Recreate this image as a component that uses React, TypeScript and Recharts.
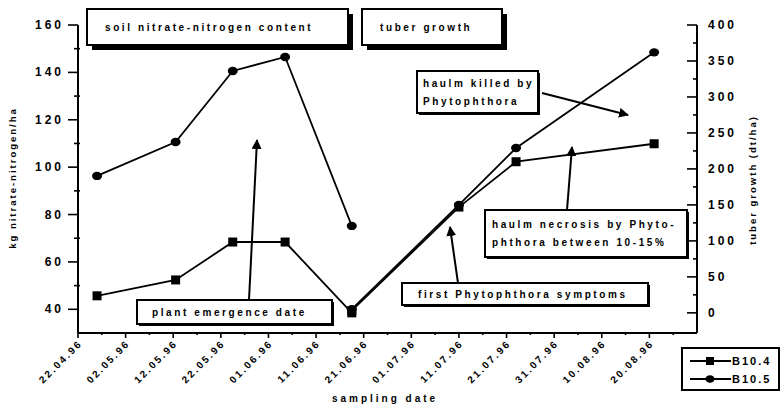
import { LineChart, Line, XAxis, YAxis } from "recharts";

const dateLabels = [
  "22.04.96", "02.05.96", "12.05.96", "22.05.96", "01.06.96", "11.06.96", "21.06.96",
  "01.07.96", "11.07.96", "21.07.96", "31.07.96", "10.08.96", "20.08.96",
];

// days after 22.04.96
const sampleDays = [4, 20.5, 32.5, 43.5, 57.5, 80, 92, 121];
const nitrateB104 = [45.7, 52.4, 68.4, 68.4, 38.5, null, null, null];
const nitrateB105 = [96.3, 110.6, 140.6, 146.5, 75.2, null, null, null];
const tuberB104 = [null, null, null, null, 3, 147, 210, 235];
const tuberB105 = [null, null, null, null, 5, 150, 229, 362];

const leftTicks = [40, 50, 60, 70, 80, 90, 100, 110, 120, 130, 140, 150, 160];
const rightTicks = [0, 25, 50, 75, 100, 125, 150, 175, 200, 225, 250, 275, 300, 325, 350, 375, 400];

const data = sampleDays.map((day, i) => ({
  day,
  n104: nitrateB104[i],
  n105: nitrateB105[i],
  t104: tuberB104[i],
  t105: tuberB105[i],
}));

const xTicks: number[] = [];
dateLabels.forEach((_, i) => {
  xTicks.push(i * 10);
  xTicks.push(i * 10 + 5);
});

const FONT = "'Liberation Sans', Arial, sans-serif";

const LeftTick = ({ x, y, payload }: any) => {
  const major = payload.value % 20 === 0;
  return (
    <g>
      <line x1={major ? x - 10 : x - 4} x2={major ? x : x + 2} y1={y} y2={y} stroke="#000" strokeWidth={1.6} />
      {major && (
        <text x={x - 14} y={y} dy={4} textAnchor="end" fontFamily={FONT} fontWeight="bold" fontSize={12} letterSpacing={3} fill="#000">
          {payload.value}
        </text>
      )}
    </g>
  );
};

const RightTick = ({ x, y, payload }: any) => {
  const major = payload.value % 50 === 0;
  return (
    <g>
      <line x1={major ? x - 10 : x - 4} x2={major ? x : x + 1} y1={y} y2={y} stroke="#000" strokeWidth={1.6} />
      {major && (
        <text x={x + 11} y={y} dy={4} textAnchor="start" fontFamily={FONT} fontWeight="bold" fontSize={12} letterSpacing={3} fill="#000">
          {payload.value}
        </text>
      )}
    </g>
  );
};

const DateTick = ({ x, y, payload }: any) => {
  const major = payload.value % 10 === 0;
  const label = dateLabels[payload.value / 10];
  return (
    <g>
      <line x1={x} x2={x} y1={y} y2={y + (major ? 5 : 2)} stroke="#000" strokeWidth={1.6} />
      {major && (
        <text
          x={x + 5}
          y={y + 11}
          textAnchor="end"
          transform={`rotate(-45 ${x + 5} ${y + 11})`}
          fontFamily={FONT}
          fontWeight="bold"
          fontSize={10}
          letterSpacing={2.2}
          fill="#000"
        >
          {label}
        </text>
      )}
    </g>
  );
};

const squareDot = (props: any) => {
  const { cx, cy, index } = props;
  if (cx == null || cy == null) return <g key={index} />;
  return <rect key={index} x={cx - 4.5} y={cy - 4.5} width={9} height={9} fill="#000" />;
};

const circleDot = (props: any) => {
  const { cx, cy, index } = props;
  if (cx == null || cy == null) return <g key={index} />;
  return <ellipse key={index} cx={cx} cy={cy} rx={5} ry={4.2} fill="#000" />;
};

type Note = { x: number; y: number; w: number; h: number; shadow: number; lines: string[]; tx: number; ty: number[] };

const notes: Note[] = [
  { x: 87, y: 9, w: 261, h: 36, shadow: 5, lines: ["soil nitrate-nitrogen content"], tx: 105, ty: [31] },
  { x: 362, y: 9, w: 140, h: 36, shadow: 5, lines: ["tuber growth"], tx: 380, ty: [31] },
  { x: 417, y: 71, w: 121, h: 42, shadow: 2, lines: ["haulm killed by", "Phytophthora"], tx: 423, ty: [87, 105] },
  { x: 485, y: 210, w: 202, h: 47, shadow: 2, lines: ["haulm necrosis by Phyto-", "phthora between 10-15%"], tx: 492, ty: [228, 246] },
  { x: 402, y: 283, w: 246, h: 22, shadow: 2, lines: ["first Phytophthora symptoms"], tx: 418, ty: [298] },
  { x: 137, y: 300, w: 195, h: 24, shadow: 2, lines: ["plant emergence date"], tx: 152, ty: [316] },
];

const arrows = [
  [249, 300, 257, 140],
  [542, 93, 628, 115],
  [567, 210, 572, 147],
  [458, 283, 450, 227],
];

const Overlay = () => (
  <svg width={781} height={407} style={{ position: "absolute", left: 0, top: 0, pointerEvents: "none" }}>
    <defs>
      <marker id="head" viewBox="0 0 10 10" refX="9" refY="5" markerWidth="5" markerHeight="5" orient="auto">
        <path d="M0,0 L10,5 L0,10 z" fill="#000" />
      </marker>
    </defs>
    {arrows.map(([x1, y1, x2, y2], i) => (
      <line key={i} x1={x1} y1={y1} x2={x2} y2={y2} stroke="#000" strokeWidth={2} markerEnd="url(#head)" />
    ))}
    {notes.map((n, i) => (
      <g key={i}>
        <rect x={n.x + n.shadow} y={n.y + n.shadow} width={n.w} height={n.h} fill="#000" />
        <rect x={n.x} y={n.y} width={n.w} height={n.h} fill="#fff" stroke="#000" strokeWidth={2} />
        {n.lines.map((t, j) => (
          <text key={j} x={n.tx} y={n.ty[j]} fontFamily={FONT} fontWeight="bold" fontSize={10} letterSpacing={2.6} fill="#000">
            {t}
          </text>
        ))}
      </g>
    ))}
    <g>
      <rect x={682} y={348} width={97} height={42} fill="#fff" stroke="#000" strokeWidth={2} />
      <line x1={690} x2={731} y1={361} y2={361} stroke="#000" strokeWidth={1.8} />
      <rect x={706} y={357} width={8} height={8} fill="#000" />
      <text x={732} y={365} fontFamily={FONT} fontWeight="bold" fontSize={11} letterSpacing={2} fill="#000">B10.4</text>
      <line x1={690} x2={731} y1={379} y2={379} stroke="#000" strokeWidth={1.8} />
      <ellipse cx={710} cy={379} rx={4.5} ry={3.8} fill="#000" />
      <text x={732} y={383} fontFamily={FONT} fontWeight="bold" fontSize={11} letterSpacing={2} fill="#000">B10.5</text>
    </g>
    <text x={385} y={402} textAnchor="middle" fontFamily={FONT} fontWeight="bold" fontSize={10} letterSpacing={3} fill="#000">
      sampling date
    </text>
    <text x={0} y={0} transform="translate(16 178) rotate(-90)" textAnchor="middle" fontFamily={FONT} fontWeight="bold" fontSize={9.5} letterSpacing={2} fill="#000">
      kg nitrate-nitrogen/ha
    </text>
    <text x={0} y={0} transform="translate(756 180) rotate(-90)" textAnchor="middle" fontFamily={FONT} fontWeight="bold" fontSize={9.5} letterSpacing={2} fill="#000">
      tuber growth (dt/ha)
    </text>
  </svg>
);

export default function App() {
  return (
    <div style={{ position: "absolute", left: 0, top: 0, width: 781, height: 407, background: "#fff" }}>
      <LineChart width={781} height={407} data={data} margin={{ top: 25, right: 34, left: 28, bottom: 14 }}>
        <XAxis
          dataKey="day"
          type="number"
          domain={[0, 130]}
          ticks={xTicks}
          interval={0}
          height={60}
          tickSize={0}
          tickMargin={0}
          tick={<DateTick />}
          axisLine={{ stroke: "#000", strokeWidth: 2 }}
        />
        <YAxis
          yAxisId="left"
          orientation="left"
          domain={[30, 160]}
          ticks={leftTicks}
          interval={0}
          width={50}
          tickSize={0}
          tickMargin={0}
          tick={<LeftTick />}
          axisLine={{ stroke: "#000", strokeWidth: 2 }}
        />
        <YAxis
          yAxisId="right"
          orientation="right"
          domain={[-28, 400]}
          ticks={rightTicks}
          interval={0}
          width={50}
          tickSize={0}
          tickMargin={0}
          tick={<RightTick />}
          axisLine={{ stroke: "#000", strokeWidth: 2 }}
        />
        <Line yAxisId="left" dataKey="n104" stroke="#000" strokeWidth={1.8} dot={squareDot} isAnimationActive={false} />
        <Line yAxisId="left" dataKey="n105" stroke="#000" strokeWidth={1.8} dot={circleDot} isAnimationActive={false} />
        <Line yAxisId="right" dataKey="t104" stroke="#000" strokeWidth={1.8} dot={squareDot} isAnimationActive={false} />
        <Line yAxisId="right" dataKey="t105" stroke="#000" strokeWidth={1.8} dot={circleDot} isAnimationActive={false} />
      </LineChart>
      <Overlay />
    </div>
  );
}
